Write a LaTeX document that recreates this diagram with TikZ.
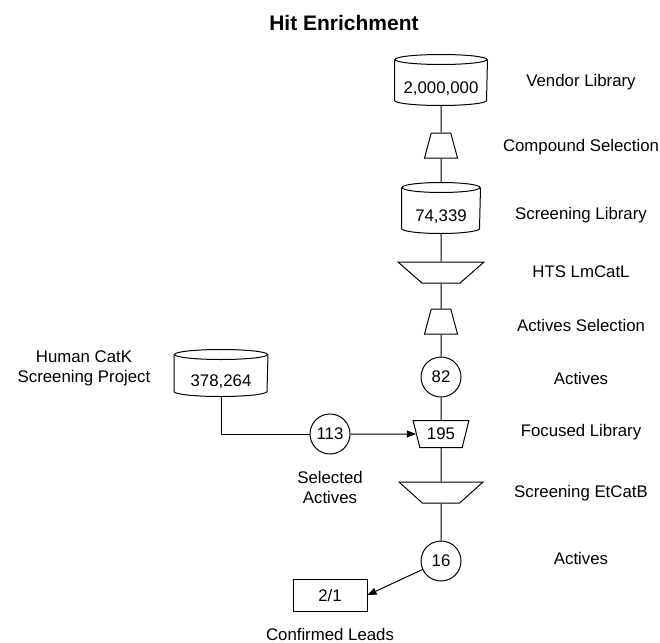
\documentclass[tikz,border=0pt]{standalone}
\usepackage{fontspec}
\setmainfont{Liberation Sans}
\usetikzlibrary{shapes.geometric,arrows.meta}

% number sitting on the front face of a cylinder
\newcommand{\cyltext}[1]{\raisebox{-13.5pt}[0pt][0pt]{#1}}

\tikzset{
  store/.style={minimum width=#1, minimum height=50pt, inner sep=0pt,
    append after command={\pgfextra{
      \draw ([yshift=-5pt]\tikzlastnode.north west) -- ([yshift=5pt]\tikzlastnode.south west)
        arc[start angle=180, end angle=360, x radius=0.5*#1, y radius=5pt]
        -- ([yshift=-5pt]\tikzlastnode.north east);
      \draw ([yshift=-5pt]\tikzlastnode.north) ellipse[x radius=0.5*#1, y radius=5pt];
    }}},
  funnel/.style={trapezium, draw, trapezium stretches=true, inner sep=1pt,
    trapezium left angle=71, trapezium right angle=71,
    minimum width=33pt, minimum height=25pt},
  sieve/.style={trapezium, draw, shape border rotate=180, trapezium stretches=true,
    inner sep=1pt, minimum width=86pt, minimum height=21pt,
    trapezium left angle=58, trapezium right angle=58},
  hit/.style={circle, draw, minimum size=40pt, inner sep=0pt},
  lbl/.style={align=center},
}

\begin{document}
\begin{tikzpicture}[x=1pt, y=-1pt, line width=1pt, font=\fontsize{16.8}{20}\selectfont]
    \useasboundingbox (0,0) rectangle (660,642);

    % Title
    \node[font=\fontsize{21}{24}\selectfont\bfseries] (title) at (344,23) {Hit Enrichment};

    % Main column
    \node[store=92pt] (vendor) at (441,80) {\cyltext{2,000,000}};
    \node[funnel] (cmpsel) at (441,145.5) {};
    \node[store=78pt] (screen) at (441,208) {\cyltext{74,339}};
    \node[sieve] (hts) at (441,272.5) {};
    \node[funnel] (actsel) at (441,321.5) {};
    \node[hit] (act1) at (441,377) {82};
    \node[sieve, minimum width=56pt, minimum height=27pt,
      trapezium left angle=71, trapezium right angle=71] (focus) at (441,434) {195};
    \node[sieve, minimum width=84pt] (etcatb) at (441,492.5) {};
    \node[hit] (act2) at (441,561) {16};

    % Side branch
    \node[store=93pt, minimum height=46pt] (catk) at (221,373) {\cyltext{378,264}};
    \node[hit] (selact) at (330,434) {113};
    \node[draw, minimum width=74pt, minimum height=32pt] (leads) at (330,595) {2/1};

    % Labels
    \node (lvendor) at (581,82) {Vendor Library};
    \node (lcmpsel) at (581,147) {Compound Selection};
    \node (lscreen) at (581,215) {Screening Library};
    \node (lhts) at (581,272) {HTS LmCatL};
    \node (lactsel) at (581,325) {Actives Selection};
    \node (lact1) at (581,378) {Actives};
    \node (lfocus) at (581,432) {Focused Library};
    \node (letcatb) at (581,493) {Screening EtCatB};
    \node (lact2) at (581,558) {Actives};
    \node[lbl] (lcatk) at (84,368) {Human CatK\\Screening Project};
    \node[lbl] (lselact) at (330,487.5) {Selected\\Actives};
    \node (lleads) at (330,634) {Confirmed Leads};

    % Connectors
    \draw (vendor) -- (cmpsel) -- (screen) -- (hts) -- (actsel) -- (act1)
      -- (focus) -- (etcatb) -- (act2);
    \draw (catk.south) |- (selact.west);
    \draw[-{Triangle[length=9pt,width=7pt]}] (selact) -- (focus);
    \draw[-{Triangle[length=9pt,width=7pt]}] (act2) -- (leads.east);
\end{tikzpicture}
\end{document}
